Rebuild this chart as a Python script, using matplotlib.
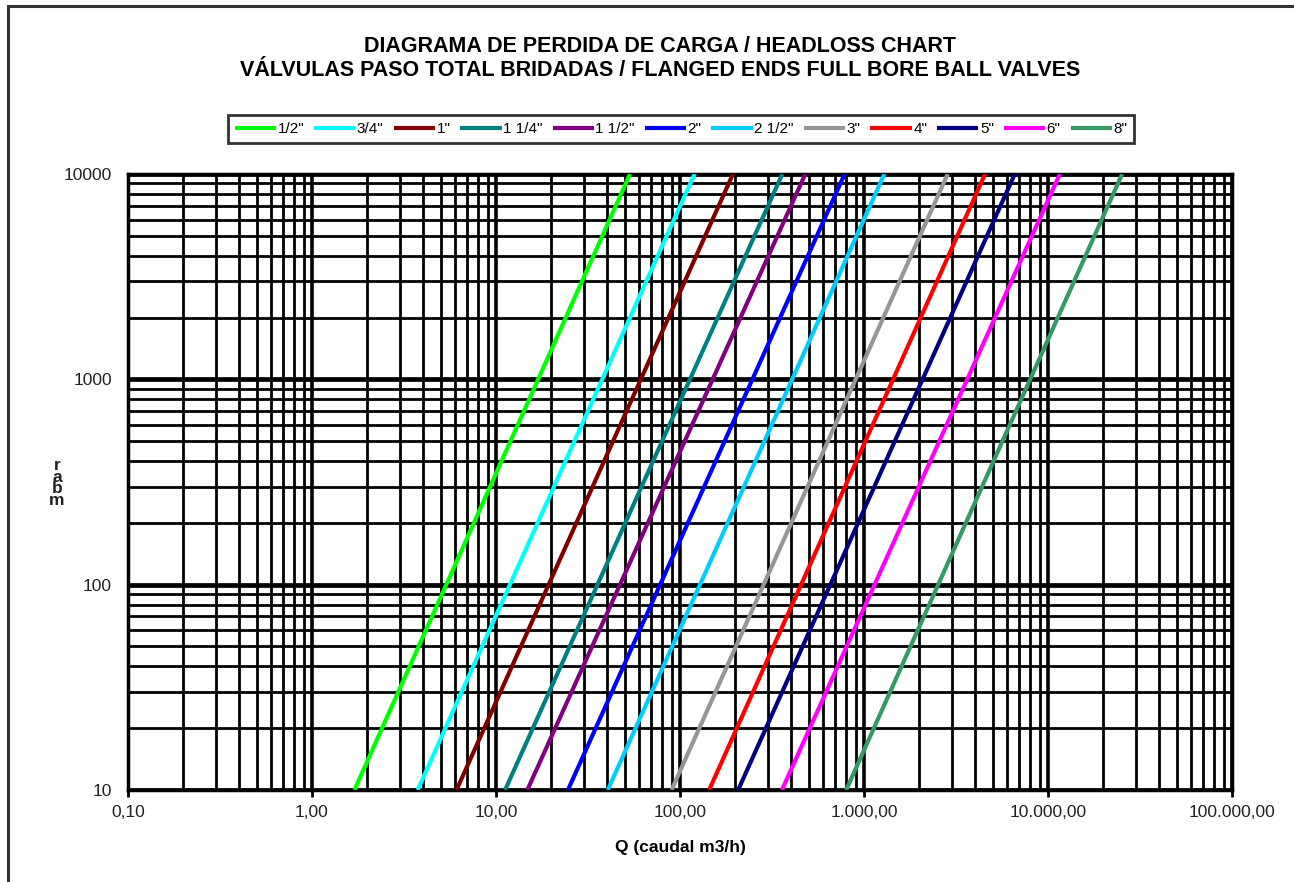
import matplotlib
matplotlib.use("Agg")
import matplotlib.pyplot as plt
from matplotlib.patches import Rectangle
from matplotlib.ticker import FixedLocator, NullFormatter, NullLocator

plt.rcParams['font.family'] = ['Liberation Sans', 'DejaVu Sans']

# Data: flow Q (m3/h) at 10 mbar and at 10000 mbar for each valve size
sizes = ['1/2"', '3/4"', '1"', '1 1/4"', '1 1/2"', '2"', '2 1/2"', '3"', '4"', '5"', '6"', '8"']
q_at_10 = [1.70, 3.75, 6.1, 11.2, 14.8, 24.6, 40.5, 90, 144, 207, 358, 800]
q_at_10000 = [53.5, 120, 194, 360, 480, 785, 1290, 2850, 4550, 6600, 11600, 25300]
headloss = [10, 10000]
colors = ['#00FF00', '#00FFFF', '#800000', '#008080', '#800080', '#0000FF',
          '#00CCFF', '#969696', '#FF0000', '#000080', '#FF00FF', '#339966']

x_ticks = [0.1, 1, 10, 100, 1000, 10000, 100000]
x_labels = ['0,10', '1,00', '10,00', '100,00', '1.000,00', '10.000,00', '100.000,00']
y_ticks = [10, 100, 1000, 10000]
y_labels = ['10', '100', '1000', '10000']

fig = plt.figure(figsize=(12.94, 8.82), dpi=100)
fig.patch.set_facecolor('white')
# outer frame
fig.add_artist(Rectangle((7.5 / 1294, -0.05), 1.2, 1 - 5.5 / 882 + 0.05,
                         transform=fig.transFigure, fill=False,
                         edgecolor='#333333', linewidth=2.2))

ax = fig.add_axes([128 / 1294, 1 - 790 / 882, (1232 - 128) / 1294, (790 - 174) / 882])
ax.set_xscale('log')
ax.set_yscale('log')
ax.set_xlim(0.1, 100000)
ax.set_ylim(10, 10000)

# grid
minor_x = [m * 10.0 ** e for e in range(-1, 5) for m in range(2, 10)]
minor_y = [m * 10.0 ** e for e in range(1, 4) for m in range(2, 10)]
for v in minor_x:
    ax.axvline(v, color='black', lw=2.0, zorder=1)
for v in x_ticks:
    ax.axvline(v, color='black', lw=2.6, zorder=1)
for v in minor_y:
    ax.axhline(v, color='black', lw=2.0, zorder=1)
for v in y_ticks:
    ax.axhline(v, color='black', lw=3.4, zorder=1)

lines = []
for name, q1, q2, c in zip(sizes, q_at_10, q_at_10000, colors):
    ln, = ax.plot([q1, q2], headloss, color=c, lw=3.0, label=name, zorder=3,
                  solid_capstyle='butt')
    lines.append(ln)

ax.xaxis.set_major_locator(FixedLocator(x_ticks))
ax.set_xticklabels(x_labels)
ax.xaxis.set_minor_locator(NullLocator())
ax.xaxis.set_minor_formatter(NullFormatter())
ax.yaxis.set_major_locator(FixedLocator(y_ticks))
ax.set_yticklabels(y_labels)
ax.yaxis.set_minor_locator(NullLocator())
ax.yaxis.set_minor_formatter(NullFormatter())
ax.tick_params(axis='x', which='major', length=5, width=2, direction='out',
               labelsize=12.5, pad=6, colors='black', labelcolor='#222222')
ax.tick_params(axis='y', which='major', length=0, labelsize=12.5, pad=11.5,
               labelcolor='#222222')
for s in ax.spines.values():
    s.set_linewidth(2.5)
    s.set_color('black')

ax.set_xlabel('Q (caudal m3/h)', fontsize=12.5, fontweight='bold', labelpad=14)
fig.text(57 / 1294, 1 - 483 / 882, 'r\na\nb\nm', ha='center', va='center',
         fontsize=12.5, fontweight='bold', linespacing=0.72, color='#222222')

fig.text(660 / 1294, 1 - 46 / 882, 'DIAGRAMA DE PERDIDA DE CARGA / HEADLOSS CHART',
         ha='center', va='center', fontsize=15.5, fontweight='bold')
fig.text(660 / 1294, 1 - 71 / 882, 'VÁLVULAS PASO TOTAL BRIDADAS / FLANGED ENDS FULL BORE BALL VALVES',
         ha='center', va='center', fontsize=15.5, fontweight='bold')

leg = fig.legend(handles=lines, loc='center', bbox_to_anchor=(681 / 1294, 1 - 129 / 882),
                 ncol=12, frameon=True, fancybox=False, fontsize=11,
                 handlelength=2.7, handletextpad=0.1, columnspacing=0.65,
                 borderpad=0.45, edgecolor='black', borderaxespad=0)
leg.get_frame().set_linewidth(2.0)

fig.savefig('out.png', dpi=100, facecolor='white')
